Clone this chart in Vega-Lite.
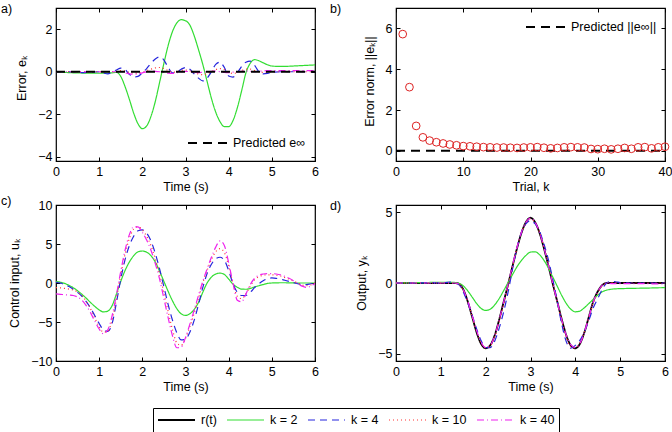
{
  "$schema": "https://vega.github.io/schema/vega-lite/v6.json",
  "padding": {"left": 0, "top": 2, "right": 0, "bottom": 0},
  "columns": 2,
  "bounds": "flush",
  "align": "each",
  "spacing": {"row": 44, "column": 81},
  "datasets": {
    "err": [
      {"t": 0.0, "k2": 0.0, "k4": 0.0, "k10": 0.0, "k40": 0.0},
      {"t": 0.2, "k2": -0.03, "k4": 0.0, "k10": 0.0, "k40": 0.0},
      {"t": 0.4, "k2": -0.05, "k4": 0.0, "k10": 0.0, "k40": 0.0},
      {"t": 0.6, "k2": -0.06, "k4": -0.04, "k10": 0.0, "k40": 0.0},
      {"t": 0.8, "k2": -0.06, "k4": -0.02, "k10": 0.0, "k40": 0.0},
      {"t": 1.0, "k2": -0.06, "k4": 0.0, "k10": 0.0, "k40": 0.0},
      {"t": 1.1, "k2": -0.06, "k4": -0.06, "k10": 0.0, "k40": 0.0},
      {"t": 1.2, "k2": -0.06, "k4": -0.1, "k10": 0.0, "k40": 0.0},
      {"t": 1.3, "k2": -0.05, "k4": -0.02, "k10": 0.0, "k40": 0.0},
      {"t": 1.4, "k2": -0.03, "k4": 0.08, "k10": 0.02, "k40": 0.0},
      {"t": 1.5, "k2": -0.22, "k4": 0.17, "k10": 0.05, "k40": 0.02},
      {"t": 1.6, "k2": -0.7, "k4": 0.1, "k10": 0.03, "k40": -0.05},
      {"t": 1.7, "k2": -1.3, "k4": -0.12, "k10": -0.03, "k40": -0.1},
      {"t": 1.8, "k2": -1.95, "k4": -0.25, "k10": -0.06, "k40": -0.12},
      {"t": 1.9, "k2": -2.45, "k4": -0.22, "k10": -0.06, "k40": -0.1},
      {"t": 2.0, "k2": -2.68, "k4": -0.05, "k10": -0.02, "k40": -0.05},
      {"t": 2.1, "k2": -2.55, "k4": 0.15, "k10": 0.05, "k40": 0.0},
      {"t": 2.2, "k2": -2.1, "k4": 0.4, "k10": 0.12, "k40": 0.03},
      {"t": 2.3, "k2": -1.4, "k4": 0.6, "k10": 0.18, "k40": 0.02},
      {"t": 2.4, "k2": -0.5, "k4": 0.7, "k10": 0.2, "k40": 0.0},
      {"t": 2.5, "k2": 0.4, "k4": 0.55, "k10": 0.15, "k40": -0.03},
      {"t": 2.6, "k2": 1.25, "k4": 0.2, "k10": 0.05, "k40": -0.07},
      {"t": 2.7, "k2": 1.9, "k4": -0.05, "k10": -0.02, "k40": -0.08},
      {"t": 2.8, "k2": 2.3, "k4": -0.02, "k10": 0.0, "k40": -0.05},
      {"t": 2.9, "k2": 2.45, "k4": 0.12, "k10": 0.06, "k40": 0.0},
      {"t": 3.0, "k2": 2.4, "k4": 0.2, "k10": 0.08, "k40": 0.02},
      {"t": 3.1, "k2": 2.2, "k4": 0.12, "k10": 0.04, "k40": 0.0},
      {"t": 3.2, "k2": 1.7, "k4": -0.1, "k10": -0.04, "k40": -0.03},
      {"t": 3.3, "k2": 1.05, "k4": -0.3, "k10": -0.1, "k40": -0.04},
      {"t": 3.4, "k2": 0.35, "k4": -0.43, "k10": -0.14, "k40": -0.02},
      {"t": 3.5, "k2": -0.45, "k4": -0.3, "k10": -0.1, "k40": 0.0},
      {"t": 3.6, "k2": -1.25, "k4": 0.0, "k10": 0.0, "k40": 0.02},
      {"t": 3.7, "k2": -1.9, "k4": 0.35, "k10": 0.1, "k40": 0.03},
      {"t": 3.8, "k2": -2.35, "k4": 0.45, "k10": 0.15, "k40": 0.0},
      {"t": 3.9, "k2": -2.58, "k4": 0.2, "k10": 0.1, "k40": -0.03},
      {"t": 4.0, "k2": -2.58, "k4": -0.2, "k10": -0.03, "k40": -0.04},
      {"t": 4.1, "k2": -2.3, "k4": -0.25, "k10": -0.08, "k40": -0.02},
      {"t": 4.2, "k2": -1.7, "k4": -0.05, "k10": -0.04, "k40": 0.0},
      {"t": 4.3, "k2": -0.9, "k4": 0.25, "k10": 0.05, "k40": 0.02},
      {"t": 4.4, "k2": -0.05, "k4": 0.45, "k10": 0.12, "k40": 0.03},
      {"t": 4.5, "k2": 0.4, "k4": 0.5, "k10": 0.12, "k40": 0.02},
      {"t": 4.6, "k2": 0.57, "k4": 0.3, "k10": 0.06, "k40": 0.0},
      {"t": 4.7, "k2": 0.52, "k4": 0.0, "k10": 0.0, "k40": 0.02},
      {"t": 4.8, "k2": 0.42, "k4": -0.1, "k10": -0.03, "k40": 0.04},
      {"t": 4.9, "k2": 0.33, "k4": -0.08, "k10": -0.02, "k40": 0.05},
      {"t": 5.0, "k2": 0.27, "k4": -0.03, "k10": 0.0, "k40": 0.05},
      {"t": 5.2, "k2": 0.25, "k4": 0.0, "k10": 0.0, "k40": 0.05},
      {"t": 5.4, "k2": 0.26, "k4": 0.0, "k10": 0.0, "k40": 0.05},
      {"t": 5.6, "k2": 0.28, "k4": 0.0, "k10": 0.0, "k40": 0.05},
      {"t": 5.8, "k2": 0.3, "k4": 0.0, "k10": 0.0, "k40": 0.05},
      {"t": 6.0, "k2": 0.32, "k4": 0.0, "k10": 0.0, "k40": 0.06}
    ],
    "predA": [
      {"t": 0, "e": 0, "label": "Predicted e∞"},
      {"t": 6, "e": 0, "label": "Predicted e∞"}
    ],
    "norm": [
      {"k": 1, "n": 5.72}, {"k": 2, "n": 3.12}, {"k": 3, "n": 1.22}, {"k": 4, "n": 0.66},
      {"k": 5, "n": 0.5}, {"k": 6, "n": 0.42}, {"k": 7, "n": 0.36}, {"k": 8, "n": 0.31},
      {"k": 9, "n": 0.27}, {"k": 10, "n": 0.23}, {"k": 11, "n": 0.22}, {"k": 12, "n": 0.2},
      {"k": 13, "n": 0.18}, {"k": 14, "n": 0.17}, {"k": 15, "n": 0.16}, {"k": 16, "n": 0.16},
      {"k": 17, "n": 0.15}, {"k": 18, "n": 0.14}, {"k": 19, "n": 0.16}, {"k": 20, "n": 0.17},
      {"k": 21, "n": 0.18}, {"k": 22, "n": 0.15}, {"k": 23, "n": 0.12}, {"k": 24, "n": 0.14},
      {"k": 25, "n": 0.17}, {"k": 26, "n": 0.18}, {"k": 27, "n": 0.17}, {"k": 28, "n": 0.16},
      {"k": 29, "n": 0.09}, {"k": 30, "n": 0.08}, {"k": 31, "n": 0.1}, {"k": 32, "n": 0.07},
      {"k": 33, "n": 0.1}, {"k": 34, "n": 0.14}, {"k": 35, "n": 0.1}, {"k": 36, "n": 0.17},
      {"k": 37, "n": 0.18}, {"k": 38, "n": 0.12}, {"k": 39, "n": 0.17}, {"k": 40, "n": 0.2}
    ],
    "predB": [
      {"k": 0, "n": 0, "label": "Predicted ||e∞||"},
      {"k": 40, "n": 0, "label": "Predicted ||e∞||"}
    ],
    "ctl": [
      {"t": 0.0, "k2": 0.2, "k4": 0.1, "k10": -0.6, "k40": -1.4},
      {"t": 0.1, "k2": 0.1, "k4": 0.0, "k10": -0.62, "k40": -1.45},
      {"t": 0.2, "k2": -0.05, "k4": -0.2, "k10": -0.7, "k40": -1.5},
      {"t": 0.3, "k2": -0.3, "k4": -0.45, "k10": -0.78, "k40": -1.55},
      {"t": 0.4, "k2": -0.6, "k4": -0.8, "k10": -0.9, "k40": -1.6},
      {"t": 0.5, "k2": -1.0, "k4": -1.2, "k10": -1.15, "k40": -1.8},
      {"t": 0.6, "k2": -1.45, "k4": -1.7, "k10": -1.6, "k40": -2.2},
      {"t": 0.7, "k2": -1.95, "k4": -2.4, "k10": -2.35, "k40": -2.9},
      {"t": 0.8, "k2": -2.5, "k4": -3.2, "k10": -3.3, "k40": -3.8},
      {"t": 0.9, "k2": -3.0, "k4": -4.2, "k10": -4.5, "k40": -4.9},
      {"t": 1.0, "k2": -3.45, "k4": -5.2, "k10": -5.6, "k40": -5.9},
      {"t": 1.1, "k2": -3.7, "k4": -6.0, "k10": -6.3, "k40": -6.5},
      {"t": 1.2, "k2": -3.6, "k4": -6.2, "k10": -6.2, "k40": -6.0},
      {"t": 1.3, "k2": -2.9, "k4": -5.2, "k10": -4.7, "k40": -4.2},
      {"t": 1.4, "k2": -1.4, "k4": -2.5, "k10": -2.0, "k40": -1.5},
      {"t": 1.5, "k2": 0.2, "k4": 0.5, "k10": 1.0, "k40": 1.5},
      {"t": 1.6, "k2": 1.6, "k4": 3.0, "k10": 3.7, "k40": 4.2},
      {"t": 1.7, "k2": 2.7, "k4": 4.8, "k10": 5.7, "k40": 6.2},
      {"t": 1.8, "k2": 3.5, "k4": 6.0, "k10": 6.9, "k40": 7.2},
      {"t": 1.9, "k2": 4.0, "k4": 6.7, "k10": 7.2, "k40": 7.2},
      {"t": 2.0, "k2": 4.1, "k4": 6.8, "k10": 6.8, "k40": 6.5},
      {"t": 2.1, "k2": 3.95, "k4": 6.4, "k10": 6.0, "k40": 5.5},
      {"t": 2.2, "k2": 3.5, "k4": 5.4, "k10": 4.8, "k40": 4.2},
      {"t": 2.3, "k2": 2.7, "k4": 3.8, "k10": 3.1, "k40": 2.5},
      {"t": 2.4, "k2": 1.5, "k4": 1.8, "k10": 1.1, "k40": 0.5},
      {"t": 2.5, "k2": 0.2, "k4": -0.5, "k10": -1.3, "k40": -2.0},
      {"t": 2.6, "k2": -1.1, "k4": -2.8, "k10": -3.7, "k40": -4.5},
      {"t": 2.7, "k2": -2.3, "k4": -4.8, "k10": -6.0, "k40": -6.8},
      {"t": 2.8, "k2": -3.3, "k4": -6.4, "k10": -7.7, "k40": -8.3},
      {"t": 2.9, "k2": -3.95, "k4": -7.3, "k10": -8.0, "k40": -8.2},
      {"t": 3.0, "k2": -4.15, "k4": -7.2, "k10": -7.1, "k40": -7.0},
      {"t": 3.1, "k2": -3.95, "k4": -6.3, "k10": -5.6, "k40": -5.3},
      {"t": 3.2, "k2": -3.4, "k4": -4.8, "k10": -3.9, "k40": -3.5},
      {"t": 3.3, "k2": -2.5, "k4": -2.8, "k10": -2.0, "k40": -1.6},
      {"t": 3.4, "k2": -1.2, "k4": -0.6, "k10": 0.0, "k40": 0.2},
      {"t": 3.5, "k2": 0.0, "k4": 1.2, "k10": 1.6, "k40": 1.8},
      {"t": 3.6, "k2": 0.75, "k4": 2.4, "k10": 3.0, "k40": 3.3},
      {"t": 3.7, "k2": 1.15, "k4": 3.1, "k10": 4.0, "k40": 4.6},
      {"t": 3.8, "k2": 1.27, "k4": 3.3, "k10": 4.4, "k40": 5.4},
      {"t": 3.9, "k2": 1.1, "k4": 2.9, "k10": 3.9, "k40": 4.8},
      {"t": 4.0, "k2": 0.5, "k4": 1.6, "k10": 2.2, "k40": 2.6},
      {"t": 4.1, "k2": -0.15, "k4": -0.1, "k10": 0.0, "k40": 0.0},
      {"t": 4.2, "k2": -0.55, "k4": -1.2, "k10": -1.7, "k40": -2.2},
      {"t": 4.3, "k2": -0.78, "k4": -1.6, "k10": -2.0, "k40": -2.4},
      {"t": 4.4, "k2": -0.8, "k4": -1.6, "k10": -1.4, "k40": -1.4},
      {"t": 4.5, "k2": -0.7, "k4": -1.2, "k10": -0.4, "k40": -0.2},
      {"t": 4.6, "k2": -0.5, "k4": -0.6, "k10": 0.4, "k40": 0.6},
      {"t": 4.7, "k2": -0.35, "k4": -0.1, "k10": 0.8, "k40": 1.0},
      {"t": 4.8, "k2": -0.2, "k4": 0.3, "k10": 1.0, "k40": 1.15},
      {"t": 4.9, "k2": -0.05, "k4": 0.55, "k10": 1.05, "k40": 1.2},
      {"t": 5.0, "k2": 0.0, "k4": 0.65, "k10": 1.05, "k40": 1.2},
      {"t": 5.1, "k2": 0.02, "k4": 0.6, "k10": 1.0, "k40": 1.15},
      {"t": 5.2, "k2": 0.03, "k4": 0.5, "k10": 0.9, "k40": 1.05},
      {"t": 5.3, "k2": 0.03, "k4": 0.35, "k10": 0.7, "k40": 0.85},
      {"t": 5.4, "k2": 0.02, "k4": 0.2, "k10": 0.5, "k40": 0.6},
      {"t": 5.5, "k2": 0.01, "k4": 0.05, "k10": 0.25, "k40": 0.3},
      {"t": 5.6, "k2": 0.0, "k4": -0.1, "k10": 0.0, "k40": -0.05},
      {"t": 5.7, "k2": 0.0, "k4": -0.2, "k10": -0.25, "k40": -0.4},
      {"t": 5.8, "k2": 0.0, "k4": -0.2, "k10": -0.35, "k40": -0.55},
      {"t": 5.9, "k2": 0.0, "k4": -0.1, "k10": -0.25, "k40": -0.4},
      {"t": 6.0, "k2": 0.0, "k4": 0.0, "k10": 0.0, "k40": -0.05}
    ],
    "out": [
      {"t": 0.0, "r": 0, "k2": 0.0, "k4": 0.0, "k10": 0.0, "k40": 0.0},
      {"t": 0.4, "r": 0, "k2": 0.02, "k4": 0.0, "k10": 0.0, "k40": 0.0},
      {"t": 0.8, "r": 0, "k2": 0.04, "k4": 0.03, "k10": 0.0, "k40": 0.0},
      {"t": 1.0, "r": 0, "k2": 0.05, "k4": 0.0, "k10": 0.0, "k40": 0.0},
      {"t": 1.2, "r": 0, "k2": 0.05, "k4": 0.06, "k10": 0.0, "k40": 0.0},
      {"t": 1.3, "r": 0, "k2": 0.04, "k4": 0.02, "k10": 0.0, "k40": 0.0},
      {"t": 1.4, "r": -0.05, "k2": -0.02, "k4": -0.1, "k10": -0.07, "k40": -0.05},
      {"t": 1.5, "r": -0.45, "k2": -0.2, "k4": -0.62, "k10": -0.5, "k40": -0.47},
      {"t": 1.6, "r": -1.3, "k2": -0.55, "k4": -1.4, "k10": -1.33, "k40": -1.25},
      {"t": 1.7, "r": -2.4, "k2": -1.0, "k4": -2.28, "k10": -2.37, "k40": -2.3},
      {"t": 1.8, "r": -3.5, "k2": -1.45, "k4": -3.25, "k10": -3.44, "k40": -3.38},
      {"t": 1.9, "r": -4.3, "k2": -1.8, "k4": -4.08, "k10": -4.24, "k40": -4.2},
      {"t": 2.0, "r": -4.6, "k2": -1.93, "k4": -4.55, "k10": -4.58, "k40": -4.55},
      {"t": 2.1, "r": -4.4, "k2": -1.85, "k4": -4.55, "k10": -4.45, "k40": -4.4},
      {"t": 2.2, "r": -3.7, "k2": -1.55, "k4": -4.1, "k10": -3.82, "k40": -3.73},
      {"t": 2.3, "r": -2.6, "k2": -1.1, "k4": -3.2, "k10": -2.78, "k40": -2.62},
      {"t": 2.4, "r": -1.35, "k2": -0.55, "k4": -2.05, "k10": -1.55, "k40": -1.35},
      {"t": 2.5, "r": -0.1, "k2": 0.03, "k4": -0.65, "k10": -0.25, "k40": -0.07},
      {"t": 2.6, "r": 1.2, "k2": 0.6, "k4": 1.0, "k10": 1.15, "k40": 1.27},
      {"t": 2.7, "r": 2.45, "k2": 1.15, "k4": 2.5, "k10": 2.47, "k40": 2.53},
      {"t": 2.8, "r": 3.55, "k2": 1.6, "k4": 3.57, "k10": 3.55, "k40": 3.6},
      {"t": 2.9, "r": 4.3, "k2": 1.95, "k4": 4.18, "k10": 4.24, "k40": 4.3},
      {"t": 3.0, "r": 4.6, "k2": 2.18, "k4": 4.4, "k10": 4.52, "k40": 4.58},
      {"t": 3.1, "r": 4.3, "k2": 2.2, "k4": 4.18, "k10": 4.26, "k40": 4.3},
      {"t": 3.2, "r": 3.55, "k2": 2.0, "k4": 3.65, "k10": 3.59, "k40": 3.58},
      {"t": 3.3, "r": 2.45, "k2": 1.6, "k4": 2.75, "k10": 2.55, "k40": 2.49},
      {"t": 3.4, "r": 1.2, "k2": 1.05, "k4": 1.63, "k10": 1.34, "k40": 1.22},
      {"t": 3.5, "r": -0.1, "k2": 0.4, "k4": 0.2, "k10": 0.0, "k40": -0.1},
      {"t": 3.6, "r": -1.35, "k2": -0.25, "k4": -1.35, "k10": -1.35, "k40": -1.37},
      {"t": 3.7, "r": -2.6, "k2": -0.9, "k4": -2.95, "k10": -2.7, "k40": -2.63},
      {"t": 3.8, "r": -3.7, "k2": -1.45, "k4": -4.15, "k10": -3.85, "k40": -3.7},
      {"t": 3.9, "r": -4.4, "k2": -1.85, "k4": -4.6, "k10": -4.5, "k40": -4.37},
      {"t": 4.0, "r": -4.6, "k2": -2.03, "k4": -4.4, "k10": -4.57, "k40": -4.56},
      {"t": 4.1, "r": -4.3, "k2": -1.98, "k4": -4.05, "k10": -4.22, "k40": -4.28},
      {"t": 4.2, "r": -3.5, "k2": -1.75, "k4": -3.45, "k10": -3.46, "k40": -3.5},
      {"t": 4.3, "r": -2.4, "k2": -1.45, "k4": -2.65, "k10": -2.45, "k40": -2.42},
      {"t": 4.4, "r": -1.3, "k2": -1.15, "k4": -1.75, "k10": -1.42, "k40": -1.33},
      {"t": 4.5, "r": -0.6, "k2": -0.85, "k4": -1.1, "k10": -0.72, "k40": -0.62},
      {"t": 4.6, "r": -0.15, "k2": -0.62, "k4": -0.45, "k10": -0.21, "k40": -0.15},
      {"t": 4.7, "r": 0, "k2": -0.5, "k4": 0.0, "k10": 0.0, "k40": -0.02},
      {"t": 4.8, "r": 0, "k2": -0.44, "k4": 0.1, "k10": 0.03, "k40": -0.04},
      {"t": 4.9, "r": 0, "k2": -0.41, "k4": 0.08, "k10": 0.02, "k40": -0.05},
      {"t": 5.0, "r": 0, "k2": -0.4, "k4": 0.03, "k10": 0.0, "k40": -0.05},
      {"t": 5.2, "r": 0, "k2": -0.38, "k4": 0.0, "k10": 0.0, "k40": -0.05},
      {"t": 5.4, "r": 0, "k2": -0.37, "k4": 0.0, "k10": 0.0, "k40": -0.05},
      {"t": 5.6, "r": 0, "k2": -0.36, "k4": 0.0, "k10": 0.0, "k40": -0.05},
      {"t": 5.8, "r": 0, "k2": -0.34, "k4": 0.0, "k10": 0.0, "k40": -0.06},
      {"t": 6.0, "r": 0, "k2": -0.33, "k4": 0.0, "k10": 0.0, "k40": -0.06}
    ]
  },
  "concat": [
    {
      "width": 259,
      "height": 153,
      "title": {"text": "a)", "anchor": "start", "frame": "group", "offset": 0, "dx": -55, "dy": 18, "baseline": "alphabetic", "fontSize": 12.5, "fontWeight": "normal"},
      "layer": [
        {
          "data": {"name": "err"},
          "transform": [{"fold": ["k2", "k4", "k10", "k40"], "as": ["series", "value"]}],
          "mark": {"type": "line", "interpolate": "monotone"},
          "encoding": {
            "x": {"field": "t", "type": "quantitative", "scale": {"domain": [0, 6], "nice": false}, "axis": {"title": "Time (s)", "values": [0, 1, 2, 3, 4, 5, 6]}},
            "y": {"field": "value", "type": "quantitative", "scale": {"domain": [-4.2, 3], "nice": false, "zero": false}, "axis": {"title": "Error, eₖ", "titleY": 70, "values": [-4, -2, 0, 2]}},
            "color": {"field": "series", "type": "nominal", "scale": {"domain": ["r", "k2", "k4", "k10", "k40"], "range": ["black", "#33dd33", "#2525dd", "#ff3333", "#ee22ee"]}},
            "strokeDash": {"field": "series", "type": "nominal", "scale": {"domain": ["r", "k2", "k4", "k10", "k40"], "range": [[1, 0], [1, 0], [7, 5], [1, 3], [7, 3, 1, 3]]}},
            "strokeWidth": {"field": "series", "type": "nominal", "scale": {"type": "ordinal", "domain": ["r", "k2", "k4", "k10", "k40"], "range": [1.8, 1.2, 1.2, 1.2, 1.2]}}
          }
        },
        {
          "data": {"name": "predA"},
          "mark": {"type": "line", "color": "black", "strokeWidth": 2, "strokeDash": [9, 6]},
          "encoding": {
            "x": {"field": "t", "type": "quantitative", "scale": {"domain": [0, 6], "nice": false}, "axis": {"orient": "top", "labels": false, "title": null, "values": [0, 1, 2, 3, 4, 5, 6]}},
            "y": {"field": "e", "type": "quantitative", "scale": {"domain": [-4.2, 3], "nice": false, "zero": false}, "axis": {"orient": "right", "labels": false, "title": null, "values": [-4, -2, 0, 2]}},
            "opacity": {"field": "label", "type": "nominal", "scale": {"type": "ordinal", "range": [1]}, "legend": {"title": null, "orient": "none", "legendX": 131, "legendY": 128, "symbolType": "stroke", "symbolSize": 1521, "symbolStrokeColor": "black", "symbolStrokeWidth": 2, "symbolDash": [9, 6], "clipHeight": 14, "labelFontSize": 12.5, "labelOffset": 5, "padding": 0}}
          }
        }
      ],
      "resolve": {"axis": {"x": "independent", "y": "independent"}}
    },
    {
      "width": 269,
      "height": 153,
      "title": {"text": "b)", "anchor": "start", "frame": "group", "offset": 0, "dx": -66, "dy": 18, "baseline": "alphabetic", "fontSize": 12.5, "fontWeight": "normal"},
      "layer": [
        {
          "data": {"name": "predB"},
          "mark": {"type": "line", "color": "black", "strokeWidth": 2, "strokeDash": [9, 6]},
          "encoding": {
            "x": {"field": "k", "type": "quantitative", "scale": {"domain": [0, 40], "nice": false}, "axis": {"orient": "top", "labels": false, "title": null, "values": [0, 10, 20, 30, 40]}},
            "y": {"field": "n", "type": "quantitative", "scale": {"domain": [-0.5, 7], "nice": false, "zero": false}, "axis": {"orient": "right", "labels": false, "title": null, "values": [0, 2, 4, 6]}},
            "opacity": {"field": "label", "type": "nominal", "scale": {"type": "ordinal", "range": [1]}, "legend": {"title": null, "orient": "none", "legendX": 129, "legendY": 12, "symbolType": "stroke", "symbolSize": 1600, "symbolStrokeColor": "black", "symbolStrokeWidth": 2, "symbolDash": [9, 6], "clipHeight": 14, "labelFontSize": 12.5, "labelOffset": 4, "padding": 0}}
          }
        },
        {
          "data": {"name": "norm"},
          "mark": {"type": "point", "shape": "circle", "filled": false, "color": "#dd2222", "size": 60, "strokeWidth": 1, "opacity": 1},
          "encoding": {
            "x": {"field": "k", "type": "quantitative", "scale": {"domain": [0, 40], "nice": false}, "axis": {"title": "Trial, k", "values": [0, 10, 20, 30, 40]}},
            "y": {"field": "n", "type": "quantitative", "scale": {"domain": [-0.5, 7], "nice": false, "zero": false}, "axis": {"title": "Error norm, ||eₖ||", "titleY": 73, "values": [0, 2, 4, 6]}}
          }
        }
      ],
      "resolve": {"axis": {"x": "independent", "y": "independent"}}
    },
    {
      "width": 259,
      "height": 156,
      "title": {"text": "c)", "anchor": "start", "frame": "group", "offset": 0, "dx": -55, "dy": 18, "baseline": "alphabetic", "fontSize": 12.5, "fontWeight": "normal"},
      "layer": [
        {
          "data": {"name": "ctl"},
          "transform": [{"fold": ["k2", "k4", "k10", "k40"], "as": ["series", "value"]}],
          "mark": {"type": "line", "interpolate": "monotone"},
          "encoding": {
            "x": {"field": "t", "type": "quantitative", "scale": {"domain": [0, 6], "nice": false}, "axis": {"title": "Time (s)", "values": [0, 1, 2, 3, 4, 5, 6]}},
            "y": {"field": "value", "type": "quantitative", "scale": {"domain": [-10, 10], "nice": false}, "axis": {"title": "Control input, uₖ", "values": [-10, -5, 0, 5, 10]}},
            "color": {"field": "series", "type": "nominal", "scale": {"domain": ["r", "k2", "k4", "k10", "k40"], "range": ["black", "#33dd33", "#2525dd", "#ff3333", "#ee22ee"]}},
            "strokeDash": {"field": "series", "type": "nominal", "scale": {"domain": ["r", "k2", "k4", "k10", "k40"], "range": [[1, 0], [1, 0], [7, 5], [1, 3], [7, 3, 1, 3]]}},
            "strokeWidth": {"field": "series", "type": "nominal", "scale": {"type": "ordinal", "domain": ["r", "k2", "k4", "k10", "k40"], "range": [1.8, 1.2, 1.2, 1.2, 1.2]}}
          }
        },
        {
          "data": {"name": "ctl"},
          "mark": {"type": "point", "opacity": 0},
          "encoding": {
            "x": {"field": "t", "type": "quantitative", "scale": {"domain": [0, 6], "nice": false}, "axis": {"orient": "top", "labels": false, "title": null, "values": [0, 1, 2, 3, 4, 5, 6]}},
            "y": {"field": "k2", "type": "quantitative", "scale": {"domain": [-10, 10], "nice": false}, "axis": {"orient": "right", "labels": false, "title": null, "values": [-10, -5, 0, 5, 10]}}
          }
        }
      ],
      "resolve": {"axis": {"x": "independent", "y": "independent"}}
    },
    {
      "width": 269,
      "height": 156,
      "title": {"text": "d)", "anchor": "start", "frame": "group", "offset": 0, "dx": -66, "dy": 18, "baseline": "alphabetic", "fontSize": 12.5, "fontWeight": "normal"},
      "layer": [
        {
          "data": {"name": "out"},
          "transform": [{"fold": ["r", "k2", "k4", "k10", "k40"], "as": ["series", "value"]}],
          "mark": {"type": "line", "interpolate": "monotone"},
          "encoding": {
            "x": {"field": "t", "type": "quantitative", "scale": {"domain": [0, 6], "nice": false}, "axis": {"title": "Time (s)", "values": [0, 1, 2, 3, 4, 5, 6]}},
            "y": {"field": "value", "type": "quantitative", "scale": {"domain": [-5.5, 5.5], "nice": false}, "axis": {"title": "Output, yₖ", "values": [-5, 0, 5]}},
            "color": {"field": "series", "type": "nominal", "scale": {"domain": ["r", "k2", "k4", "k10", "k40"], "range": ["black", "#33dd33", "#2525dd", "#ff3333", "#ee22ee"]},
              "legend": {"title": null, "orient": "none", "legendX": 97, "legendY": 400, "direction": "horizontal", "symbolType": "stroke", "symbolSize": 1369, "clipHeight": 16, "labelFontSize": 12.5, "labelOffset": 5, "columnPadding": 9, "padding": 4, "strokeColor": "black", "labelExpr": "{'r': 'r(t)', 'k2': 'k = 2', 'k4': 'k = 4', 'k10': 'k = 10', 'k40': 'k = 40'}[datum.label]"}},
            "strokeDash": {"field": "series", "type": "nominal", "scale": {"domain": ["r", "k2", "k4", "k10", "k40"], "range": [[1, 0], [1, 0], [7, 5], [1, 3], [7, 3, 1, 3]]},
              "legend": {"title": null, "orient": "none", "legendX": 97, "legendY": 400, "direction": "horizontal", "symbolType": "stroke", "symbolSize": 1369, "clipHeight": 16, "labelFontSize": 12.5, "labelOffset": 5, "columnPadding": 9, "padding": 4, "strokeColor": "black", "labelExpr": "{'r': 'r(t)', 'k2': 'k = 2', 'k4': 'k = 4', 'k10': 'k = 10', 'k40': 'k = 40'}[datum.label]"}},
            "strokeWidth": {"field": "series", "type": "nominal", "scale": {"type": "ordinal", "domain": ["r", "k2", "k4", "k10", "k40"], "range": [1.8, 1.2, 1.2, 1.2, 1.2]},
              "legend": {"title": null, "orient": "none", "legendX": 97, "legendY": 400, "direction": "horizontal", "symbolType": "stroke", "symbolSize": 1369, "clipHeight": 16, "labelFontSize": 12.5, "labelOffset": 5, "columnPadding": 9, "padding": 4, "strokeColor": "black", "labelExpr": "{'r': 'r(t)', 'k2': 'k = 2', 'k4': 'k = 4', 'k10': 'k = 10', 'k40': 'k = 40'}[datum.label]"}}
          }
        },
        {
          "data": {"name": "out"},
          "mark": {"type": "point", "opacity": 0},
          "encoding": {
            "x": {"field": "t", "type": "quantitative", "scale": {"domain": [0, 6], "nice": false}, "axis": {"orient": "top", "labels": false, "title": null, "values": [0, 1, 2, 3, 4, 5, 6]}},
            "y": {"field": "r", "type": "quantitative", "scale": {"domain": [-5.5, 5.5], "nice": false}, "axis": {"orient": "right", "labels": false, "title": null, "values": [-5, 0, 5]}}
          }
        }
      ],
      "resolve": {"axis": {"x": "independent", "y": "independent"}}
    }
  ],
  "resolve": {"scale": {"opacity": "independent"}, "legend": {"opacity": "independent"}},
  "config": {
    "font": "Liberation Sans",
    "view": {"stroke": "black", "strokeWidth": 1.2},
    "axis": {"domain": false, "grid": false, "tickSize": -4, "tickColor": "black", "tickWidth": 1, "labelFontSize": 12.5, "labelColor": "black", "labelPadding": 8, "labelFlush": false, "labelOverlap": false, "titleFontSize": 12.5, "titleFontWeight": "normal", "titleColor": "black"},
    "axisX": {"titlePadding": 3},
    "axisY": {"titlePadding": 9},
    "legend": {"labelColor": "black"},
    "title": {"color": "black"}
  }
}
